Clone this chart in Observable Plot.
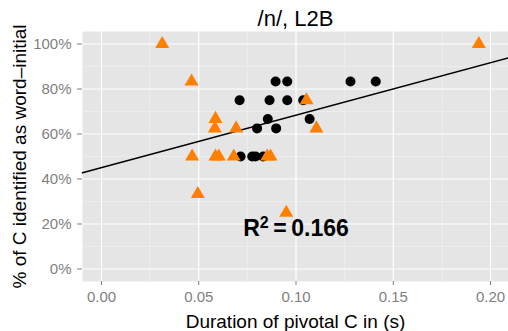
<!DOCTYPE html>
<html><head><meta charset="utf-8">
<script src="https://cdn.jsdelivr.net/npm/d3@7"></script>
<script src="https://cdn.jsdelivr.net/npm/@observablehq/plot@0.6"></script>
<style>
html,body{margin:0;padding:0;background:#fff;}
#chart{width:508px;height:331px;overflow:hidden;}
</style></head><body><div id="chart"></div>
<script>
const title = "/n/, L2B";
const xLabel = "Duration of pivotal C in (s)";
const yLabel = "% of C identified as word\u2013initial";

// black circles
const circleX = [0.0895, 0.0955, 0.128, 0.141, 0.071, 0.0864, 0.0955, 0.1037, 0.0855, 0.107, 0.080, 0.0898, 0.0715, 0.0775, 0.0792, 0.0831];
const circleY = [0.833, 0.833, 0.833, 0.833, 0.75, 0.75, 0.75, 0.75, 0.667, 0.667, 0.625, 0.625, 0.5, 0.5, 0.5, 0.5];
// orange triangles
const triX = [0.0312, 0.194, 0.0463, 0.1054, 0.0586, 0.0583, 0.0692, 0.1105, 0.0466, 0.0586, 0.0603, 0.068, 0.0852, 0.0869, 0.0495, 0.095];
const triY = [1.0, 1.0, 0.833, 0.75, 0.667, 0.625, 0.625, 0.625, 0.5, 0.5, 0.5, 0.5, 0.5, 0.5, 0.333, 0.25];

const xTicks = [0, 0.05, 0.10, 0.15, 0.20];
const xMinor = [0.025, 0.075, 0.125, 0.175];
const yTicks = [0, 0.2, 0.4, 0.6, 0.8, 1.0];
const yMinor = [0.1, 0.3, 0.5, 0.7, 0.9];

const fitIntercept = 0.4504;
const fitSlope = 2.334;
const r2Value = "0.166";

const xDomain = [-0.00977, 0.20925];
const yDomain = [-0.0556, 1.0556];

const circles = circleX.map((x, i) => ({x, y: circleY[i]}));
const triangles = triX.map((x, i) => ({x, y: triY[i]}));
const fitLine = xDomain.map(x => ({x, y: fitIntercept + fitSlope * x}));

const font = "'Liberation Sans', Arial, Helvetica, sans-serif";

const plot = Plot.plot({
  width: 508, height: 331,
  marginLeft: 82, marginRight: 0, marginTop: 31, marginBottom: 50,
  style: {background: "white", fontFamily: font, color: "#7F7F7F"},
  x: {domain: xDomain},
  y: {domain: yDomain},
  marks: [
    Plot.frame({fill: "#E5E5E5", stroke: null}),
    Plot.ruleX(xMinor, {stroke: "#F2F2F2", strokeWidth: 0.6}),
    Plot.ruleY(yMinor, {stroke: "#F2F2F2", strokeWidth: 0.6}),
    Plot.ruleX(xTicks, {stroke: "#FFFFFF", strokeWidth: 1.2}),
    Plot.ruleY(yTicks, {stroke: "#FFFFFF", strokeWidth: 1.2}),
    Plot.line(fitLine, {x: "x", y: "y", stroke: "black", strokeWidth: 1.5}),
    Plot.dot(circles, {x: "x", y: "y", r: 5, fill: "black", stroke: null, symbol: "circle"}),
    Plot.dot(triangles, {x: "x", y: "y", r: 5.2, fill: "#FF7F00", stroke: null, symbol: "triangle"}),
    Plot.text(["R\u00b2 = " + r2Value], {x: () => 0.1, y: () => 0.18, text: d => d, fill: "black", fontSize: 23, fontWeight: "bold", textAnchor: "middle", lineAnchor: "middle"}),
    Plot.axisX({ticks: xTicks, tickFormat: d3.format(".2f"), tickSize: 4, tickPadding: 6, fontSize: 15, label: null}),
    Plot.axisY({ticks: yTicks, tickFormat: d3.format(".0%"), tickSize: 5, tickPadding: 6, fontSize: 15, label: null}),
    Plot.text([xLabel], {frameAnchor: "bottom", text: d => d, dy: 46, fill: "black", fontSize: 19, textAnchor: "middle", lineAnchor: "bottom"}),
    Plot.text([yLabel], {frameAnchor: "left", text: d => d, dx: -63, rotate: -90, fill: "black", fontSize: 19, textAnchor: "middle", lineAnchor: "middle"}),
    Plot.text([title], {frameAnchor: "top", text: d => d, dy: -6, fill: "black", fontSize: 22, textAnchor: "middle", lineAnchor: "bottom"})
  ]
});
document.getElementById("chart").appendChild(plot);

// superscript for R²
plot.querySelectorAll("text").forEach(t => {
  if (t.textContent === "R\u00b2 = " + r2Value) {
    t.textContent = "";
    const ns = "http://www.w3.org/2000/svg";
    const a = document.createElementNS(ns, "tspan"); a.textContent = "R";
    const b = document.createElementNS(ns, "tspan"); b.textContent = "2";
    b.setAttribute("font-size", "16"); b.setAttribute("dy", "-8");
    const c = document.createElementNS(ns, "tspan"); c.textContent = "\u2009=\u20090.166";
    c.setAttribute("dy", "8");
    t.appendChild(a); t.appendChild(b); t.appendChild(c);
  }
});
</script>
</body></html>
